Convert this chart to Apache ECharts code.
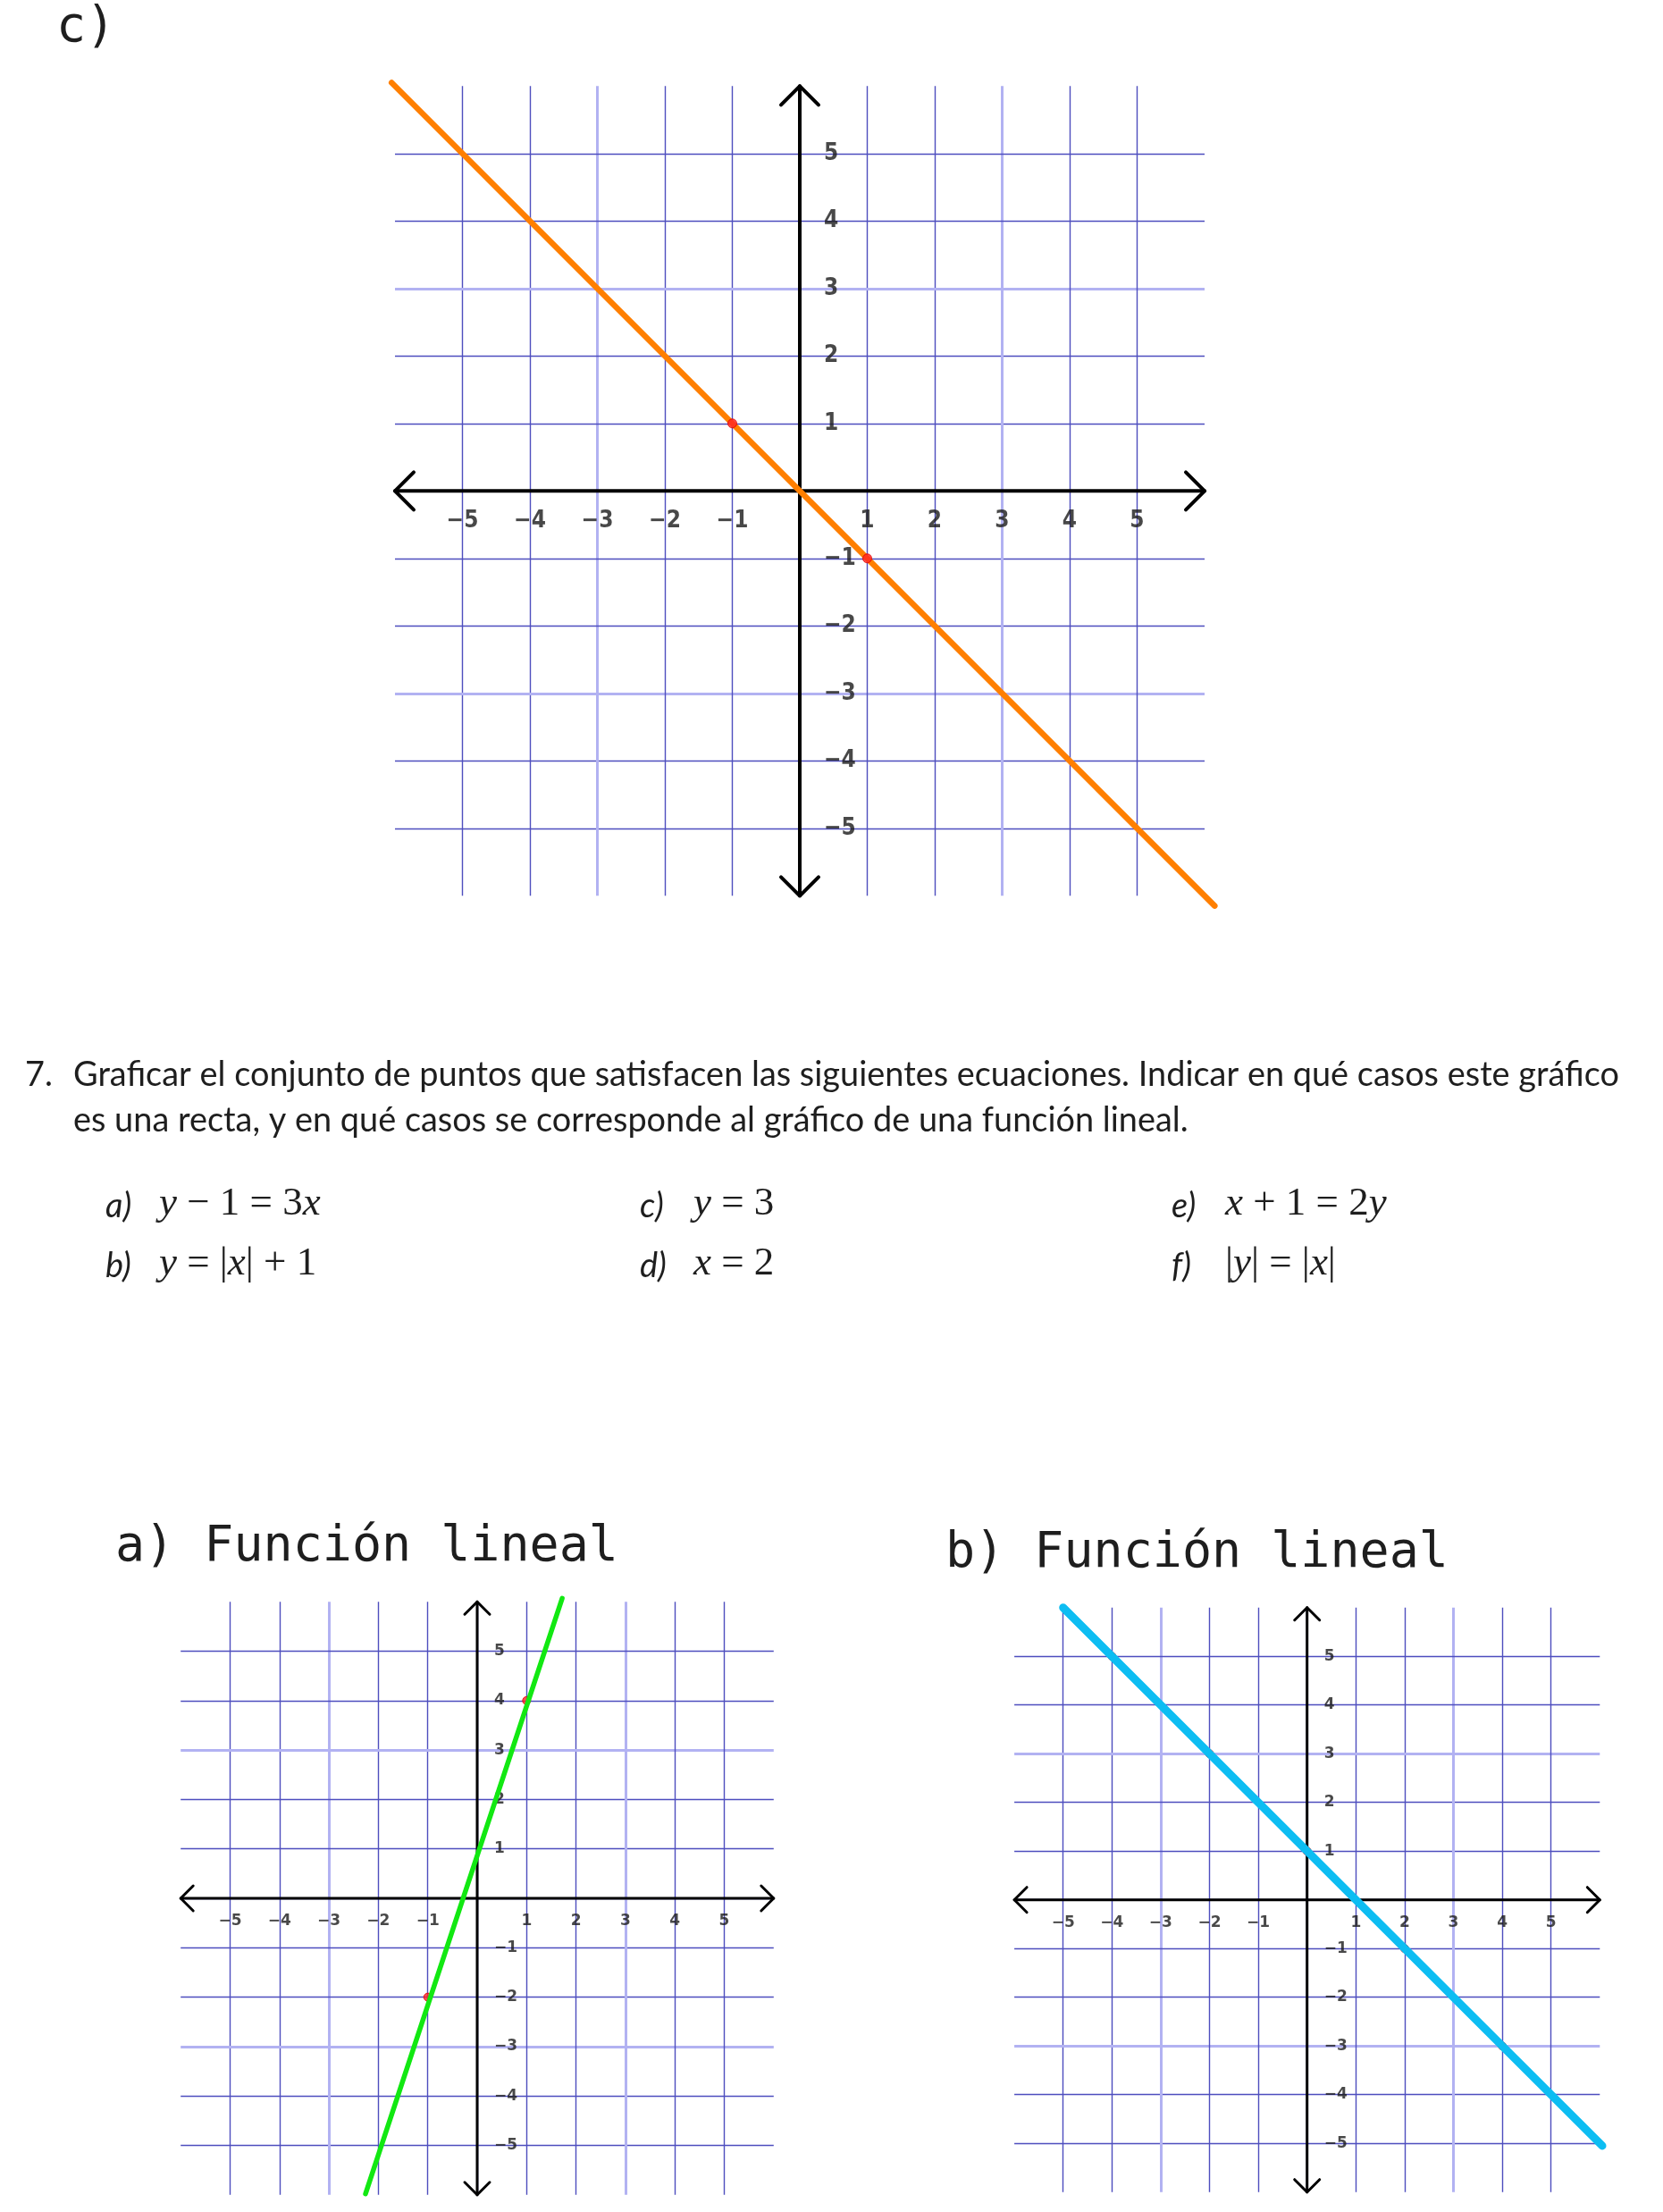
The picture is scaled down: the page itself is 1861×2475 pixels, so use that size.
<!DOCTYPE html>
<html><head><meta charset="utf-8">
<script src="https://cdn.jsdelivr.net/npm/echarts@6/dist/echarts.min.js"></script>
<style>html,body{margin:0;padding:0;background:#fff}#c{width:1861px;height:2475px}</style>
</head><body><div id="c"></div>
<script>
// ---------- data ----------
const gridTicks = [-5, -4, -3, -2, -1, 0, 1, 2, 3, 4, 5];
const labelTicks = [-5, -4, -3, -2, -1, 1, 2, 3, 4, 5];
const lightTicks = [-3, 3];
const gridExtent = 6;

const lineC = [[-6.05, 6.05], [6.15, -6.15]];
const pointsC = [[-1, 1], [1, -1]];
const lineA = [[-2.26, -5.98], [1.72, 6.07]];
const pointsA = [[-1, -2], [1, 4]];
const lineB = [[-5, 6], [6.05, -5.05]];
const pointsB = [[-4, 5], [-2, 3], [0, 1], [2, -1], [4, -3]];

const titleC = 'c)';
const titleA = 'a) Función lineal';
const titleB = 'b) Función lineal';
const paraNum = '7.';
const paraLine1 = 'Graficar el conjunto de puntos que satisfacen las siguientes ecuaciones. Indicar en qué casos este gráfico';
const paraLine2 = 'es una recta, y en qué casos se corresponde al gráfico de una función lineal.';

// ---------- layout ----------
const panels = [
  {ox: 895, oy: 549.3, ux: 75.5, uy: 75.5, xr: [-7, 7], yr: [-7, 7], axisW: 4, arrowPx: 21,
   labelFs: 26, labelFamily: '"DejaVu Sans Condensed","DejaVu Sans"', xLabDy: 34, yLabDx: 27,
   line: lineC, lineColor: '#ff7f00', lineW: 6.5, pts: pointsC, ptsOnTop: true, ptSize: 10},
  {ox: 534, oy: 2124, ux: 55.3, uy: 55.3, xr: [-6.5, 6.5], yr: [-6.1, 6.5], axisW: 3, arrowPx: 14,
   labelFs: 17, labelFamily: '"DejaVu Sans"', xLabDy: 26, yLabDx: 19,
   line: lineA, lineColor: '#12e812', lineW: 5.5, pts: pointsA, ptsOnTop: false, ptSize: 9},
  {ox: 1462.7, oy: 2125.7, ux: 54.6, uy: 54.5, xr: [-6.5, 6.5], yr: [-6.1, 6.5], axisW: 3, arrowPx: 14,
   labelFs: 17, labelFamily: '"DejaVu Sans"', xLabDy: 26, yLabDx: 19,
   line: lineB, lineColor: '#0dbdf2', lineW: 9, pts: pointsB, ptsOnTop: false, ptSize: 9}
];

const fmt = v => (v < 0 ? '\u2212' + Math.abs(v) : String(v));

const grids = [], xAxes = [], yAxes = [], series = [];
panels.forEach((p, i) => {
  grids.push({
    left: p.ox + p.xr[0] * p.ux, width: (p.xr[1] - p.xr[0]) * p.ux,
    top: p.oy - p.yr[1] * p.uy, height: (p.yr[1] - p.yr[0]) * p.uy,
    containLabel: false, outerBoundsMode: 'none'
  });
  xAxes.push({gridIndex: i, type: 'value', min: p.xr[0], max: p.xr[1], show: false});
  yAxes.push({gridIndex: i, type: 'value', min: p.yr[0], max: p.yr[1], show: false});
  const E = gridExtent;
  // grid lines
  series.push({
    type: 'lines', coordinateSystem: 'cartesian2d', xAxisIndex: i, yAxisIndex: i, silent: true, z: 1,
    lineStyle: {opacity: 1, curveness: 0},
    data: gridTicks.flatMap(v => {
      const ls = lightTicks.includes(v) ? {color: '#b2b2f2', width: 3, opacity: 1} : {color: '#4e4ebe', width: 1.4, opacity: 1};
      return [{coords: [[v, -E], [v, E]], lineStyle: ls}, {coords: [[-E, v], [E, v]], lineStyle: ls}];
    })
  });
  // axes with open arrowheads
  const a = p.arrowPx / p.ux, b = p.arrowPx / p.uy;
  series.push({
    type: 'lines', coordinateSystem: 'cartesian2d', xAxisIndex: i, yAxisIndex: i, silent: true, z: 2,
    polyline: true,
    lineStyle: {color: '#000', width: p.axisW, opacity: 1, cap: 'round', join: 'round'},
    data: [
      {coords: [[-E, 0], [E, 0]]},
      {coords: [[0, -E], [0, E]]},
      {coords: [[-E + a, b], [-E, 0], [-E + a, -b]]},
      {coords: [[E - a, b], [E, 0], [E - a, -b]]},
      {coords: [[-a, E - b], [0, E], [a, E - b]]},
      {coords: [[-a, -E + b], [0, -E], [a, -E + b]]}
    ]
  });
  // x tick labels
  series.push({
    type: 'scatter', xAxisIndex: i, yAxisIndex: i, symbolSize: 1, silent: true, z: 3,
    itemStyle: {color: 'rgba(0,0,0,0)'},
    data: labelTicks.map(v => [v, 0]),
    label: {show: true, position: 'inside', offset: [0, p.xLabDy], align: 'center', verticalAlign: 'middle',
      formatter: q => fmt(q.value[0]), fontSize: p.labelFs, fontWeight: 'bold', fontFamily: p.labelFamily, color: '#1a1a1a'}
  });
  // y tick labels
  series.push({
    type: 'scatter', xAxisIndex: i, yAxisIndex: i, symbolSize: 1, silent: true, z: 3,
    itemStyle: {color: 'rgba(0,0,0,0)'},
    data: labelTicks.map(v => [0, v]),
    label: {show: true, position: 'inside', offset: [p.yLabDx, 0], align: 'left', verticalAlign: 'middle',
      formatter: q => fmt(q.value[1]), fontSize: p.labelFs, fontWeight: 'bold', fontFamily: p.labelFamily, color: '#1a1a1a'}
  });
  // function line
  series.push({
    type: 'line', xAxisIndex: i, yAxisIndex: i, data: p.line, symbol: 'none', showSymbol: false, silent: true, z: 5,
    lineStyle: {color: p.lineColor, width: p.lineW, cap: 'round'}
  });
  // red points
  series.push({
    type: 'scatter', xAxisIndex: i, yAxisIndex: i, data: p.pts, symbolSize: p.ptSize, silent: true,
    z: p.ptsOnTop ? 6 : 4,
    itemStyle: {color: '#ff2424', borderColor: '#e00000', borderWidth: 1}
  });
});

// ---------- texts ----------
function measure(text, font) {
  const c = document.createElement('canvas').getContext('2d');
  c.font = font; return c.measureText(text).width;
}
function T(x, baseline, text, size, family, extra) {
  const el = {type: 'text', x: x, y: baseline - 0.3 * size, z: 10,
    style: Object.assign({text: text, fontSize: size, fontFamily: family, fill: '#1e1e1e', verticalAlign: 'middle', align: 'left'}, (extra && extra.style) || {})};
  if (extra && extra.scaleX) el.scaleX = extra.scaleX;
  return el;
}
const paraSize = 38;
const paraFam = 'Lato';
const w1 = measure(paraLine1, paraSize + 'px Lato');
const sx = (1812 - 82) / w1;

const serif = '"Liberation Serif"';
const eqRich = {
  v: {fontStyle: 'italic', fontSize: 45, fontFamily: serif, fill: '#1e1e1e'},
  n: {fontSize: 45, fontFamily: serif, fill: '#1e1e1e'}
};
const eqs = [
  {lab: 'a)', col: 118, row: 1361, txt: '{v|y}{n| \u2212 1 = 3}{v|x}'},
  {lab: 'b)', col: 118, row: 1428, txt: '{v|y}{n| = |}{v|x}{n|| + 1}'},
  {lab: 'c)', col: 716, row: 1361, txt: '{v|y}{n| = 3}'},
  {lab: 'd)', col: 716, row: 1428, txt: '{v|x}{n| = 2}'},
  {lab: 'e)', col: 1311, row: 1361, txt: '{v|x}{n| + 1 = 2}{v|y}'},
  {lab: 'f)', col: 1311, row: 1428, txt: '{n||}{v|y}{n|| = |}{v|x}{n||}'}
];

const graphic = [
  T(63, 48, titleC, 55, '"DejaVu Sans Mono"'),
  T(129, 1748, titleA, 55, '"DejaVu Sans Mono"'),
  T(1058, 1755, titleB, 55, '"DejaVu Sans Mono"'),
  T(28, 1214, paraNum, paraSize, paraFam, {scaleX: sx}),
  T(82, 1214, paraLine1, paraSize, paraFam, {scaleX: sx}),
  T(82, 1265, paraLine2, paraSize, paraFam, {scaleX: sx})
];
eqs.forEach(e => {
  graphic.push(T(e.col, e.row, e.lab, 38, 'Lato', {style: {fontStyle: 'italic'}}));
  graphic.push({type: 'text', x: e.col + 60, y: e.row - 0.3 * 45, z: 10,
    style: {text: e.txt, rich: eqRich, fontSize: 45, fontFamily: serif, fill: '#1e1e1e', verticalAlign: 'middle', align: 'left'}});
});

const chart = echarts.init(document.getElementById('c'), null, {renderer: 'canvas', width: 1861, height: 2475});
chart.setOption({
  animation: false,
  backgroundColor: '#ffffff',
  grid: grids, xAxis: xAxes, yAxis: yAxes, series: series, graphic: graphic
});
</script>
</body></html>
